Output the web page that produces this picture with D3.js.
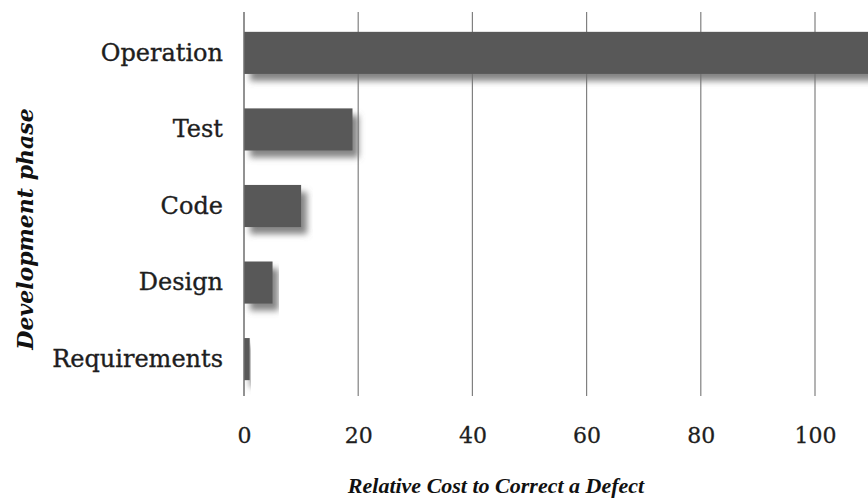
<!DOCTYPE html>
<html>
<head>
<meta charset="utf-8">
<script src="https://cdn.jsdelivr.net/npm/d3@7"></script>
<style>
  html, body { margin: 0; padding: 0; background: #fff; }
  svg { display: block; }
</style>
</head>
<body>
<svg id="chart" width="868" height="502"></svg>
<script>
// Relative cost to correct a defect, by development phase
const phases = ["Operation", "Test", "Code", "Design", "Requirements"];
const costs = [150, 19, 10, 5, 1];
const tickValues = [0, 20, 40, 60, 80, 100];

const width = 868, height = 502;
const margin = { top: 15, left: 244, bottom: 105 };
const svg = d3.select("#chart");

const x = d3.scaleLinear().domain([0, 100]).range([margin.left, 815]);
const y = d3.scaleBand().domain(phases)
  .range([margin.top, height - margin.bottom])
  .paddingInner(0.45).paddingOuter(0.22);

// soft drop shadow under each bar
const defs = svg.append("defs");
const f = defs.append("filter").attr("id", "shadow")
  .attr("x", "-10%").attr("y", "-30%").attr("width", "130%").attr("height", "180%");
f.append("feDropShadow").attr("dx", 6).attr("dy", 7).attr("stdDeviation", 3.2)
  .attr("flood-color", "#707070").attr("flood-opacity", 0.85);

defs.append("clipPath").attr("id", "plotClip")
  .append("rect").attr("x", 0).attr("y", 0).attr("width", width).attr("height", height);

// vertical gridlines (extend below plot as tick marks)
const gridTop = 12, gridBottom = 396;
svg.append("g").selectAll("line").data(tickValues.slice(1)).join("line")
  .attr("x1", d => x(d)).attr("x2", d => x(d))
  .attr("y1", gridTop).attr("y2", gridBottom)
  .attr("stroke", "#808080").attr("stroke-width", 1.2);

// bars
svg.append("g").attr("clip-path", "url(#plotClip)")
  .selectAll("rect").data(phases).join("rect")
  .attr("x", x(0))
  .attr("y", d => y(d))
  .attr("width", (d, i) => x(costs[i]) - x(0))
  .attr("height", y.bandwidth())
  .attr("fill", "#595959")
  .attr("filter", "url(#shadow)");

// value axis baseline
svg.append("line")
  .attr("x1", x(0)).attr("x2", x(0))
  .attr("y1", gridTop).attr("y2", gridBottom)
  .attr("stroke", "#6e6e6e").attr("stroke-width", 1.5);

// category labels
const yAxis = d3.axisLeft(y).tickSize(0).tickPadding(21);
svg.append("g").attr("transform", `translate(${x(0)},0)`).call(yAxis)
  .call(g => g.select(".domain").remove())
  .selectAll("text")
  .attr("font-family", "'DejaVu Serif', serif")
  .attr("font-size", 24)
  .attr("fill", "#1e1e1e")
  .attr("stroke", "#1e1e1e").attr("stroke-width", 0.35);

// tick labels
const xAxis = d3.axisBottom(x).tickValues(tickValues).tickSize(0).tickPadding(0);
svg.append("g").attr("transform", `translate(0,${427})`).call(xAxis)
  .call(g => g.select(".domain").remove())
  .selectAll("text")
  .attr("font-family", "'DejaVu Serif', serif")
  .attr("font-size", 22)
  .attr("fill", "#1e1e1e")
  .attr("stroke", "#1e1e1e").attr("stroke-width", 0.3);

// axis titles
svg.append("text")
  .attr("x", 496).attr("y", 493)
  .attr("text-anchor", "middle")
  .attr("font-family", "'Liberation Serif', serif")
  .attr("font-style", "italic").attr("font-weight", "bold")
  .attr("font-size", 22).attr("fill", "#111")
  .text("Relative Cost to Correct a Defect");

svg.append("text")
  .attr("transform", "translate(33,229) rotate(-90)")
  .attr("text-anchor", "middle")
  .attr("font-family", "'DejaVu Serif', serif")
  .attr("font-style", "italic").attr("font-weight", "bold")
  .attr("font-size", 22).attr("fill", "#111")
  .text("Development phase");
</script>
</body>
</html>
